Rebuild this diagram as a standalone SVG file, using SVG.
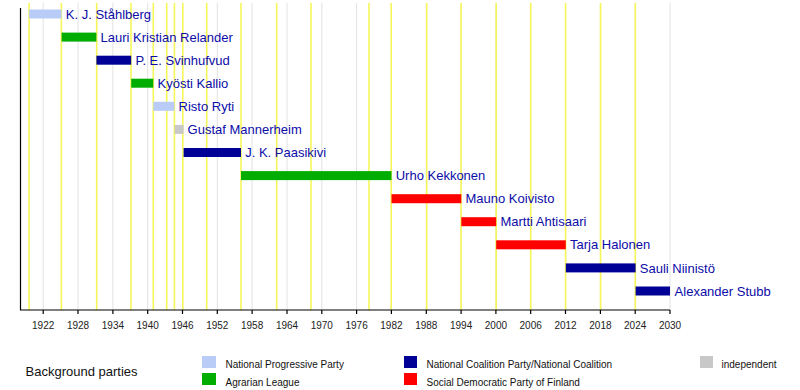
<svg xmlns="http://www.w3.org/2000/svg" width="800" height="390" viewBox="0 0 800 390">
<style>
.grid{stroke:#e2e2e2;stroke-width:1}
.yl{stroke:#f6f65a;stroke-width:1.6}
.axis{stroke:#000;stroke-width:1.2;fill:none}
.tick{font-family:"Liberation Sans",Arial,sans-serif;font-size:10px;fill:#222;text-anchor:middle}
.lbl{font-family:"Liberation Sans",Arial,sans-serif;font-size:13px;fill:#0c0ca8}
.leg{font-family:"Liberation Sans",Arial,sans-serif;font-size:10px;fill:#111}
.npp{fill:#b9cbf7}
.agr{fill:#00ad00}
.kok{fill:#000096}
.sdp{fill:#ff0000}
.ind{fill:#c8c8c8}
</style>
<rect width="800" height="390" fill="#fff"/>
<g id="gridlines">
<line class="grid" x1="43.2" y1="3" x2="43.2" y2="310"/>
<line class="grid" x1="78" y1="3" x2="78" y2="310"/>
<line class="grid" x1="112.9" y1="3" x2="112.9" y2="310"/>
<line class="grid" x1="147.7" y1="3" x2="147.7" y2="310"/>
<line class="grid" x1="182.5" y1="3" x2="182.5" y2="310"/>
<line class="grid" x1="217.3" y1="3" x2="217.3" y2="310"/>
<line class="grid" x1="252.1" y1="3" x2="252.1" y2="310"/>
<line class="grid" x1="287" y1="3" x2="287" y2="310"/>
<line class="grid" x1="321.8" y1="3" x2="321.8" y2="310"/>
<line class="grid" x1="356.6" y1="3" x2="356.6" y2="310"/>
<line class="grid" x1="391.4" y1="3" x2="391.4" y2="310"/>
<line class="grid" x1="426.3" y1="3" x2="426.3" y2="310"/>
<line class="grid" x1="461.1" y1="3" x2="461.1" y2="310"/>
<line class="grid" x1="495.9" y1="3" x2="495.9" y2="310"/>
<line class="grid" x1="530.7" y1="3" x2="530.7" y2="310"/>
<line class="grid" x1="565.5" y1="3" x2="565.5" y2="310"/>
<line class="grid" x1="600.4" y1="3" x2="600.4" y2="310"/>
<line class="grid" x1="635.2" y1="3" x2="635.2" y2="310"/>
<line class="grid" x1="670" y1="3" x2="670" y2="310"/>
<line class="yl" x1="29.1" y1="3" x2="29.1" y2="310"/>
<line class="yl" x1="61.4" y1="3" x2="61.4" y2="310"/>
<line class="yl" x1="96.7" y1="3" x2="96.7" y2="310"/>
<line class="yl" x1="131" y1="3" x2="131" y2="310"/>
<line class="yl" x1="153.3" y1="3" x2="153.3" y2="310"/>
<line class="yl" x1="166.7" y1="3" x2="166.7" y2="310"/>
<line class="yl" x1="174.4" y1="3" x2="174.4" y2="310"/>
<line class="yl" x1="182.8" y1="3" x2="182.8" y2="310"/>
<line class="yl" x1="206.7" y1="3" x2="206.7" y2="310"/>
<line class="yl" x1="241" y1="3" x2="241" y2="310"/>
<line class="yl" x1="276.7" y1="3" x2="276.7" y2="310"/>
<line class="yl" x1="311" y1="3" x2="311" y2="310"/>
<line class="yl" x1="369" y1="3" x2="369" y2="310"/>
<line class="yl" x1="391.2" y1="3" x2="391.2" y2="310"/>
<line class="yl" x1="426.7" y1="3" x2="426.7" y2="310"/>
<line class="yl" x1="461.1" y1="3" x2="461.1" y2="310"/>
<line class="yl" x1="496.2" y1="3" x2="496.2" y2="310"/>
<line class="yl" x1="530.7" y1="3" x2="530.7" y2="310"/>
<line class="yl" x1="565.6" y1="3" x2="565.6" y2="310"/>
<line class="yl" x1="600.6" y1="3" x2="600.6" y2="310"/>
<line class="yl" x1="635.3" y1="3" x2="635.3" y2="310"/>
</g>
<g id="axis">
<path class="axis" d="M20.5,8 V310 H670"/>
<path class="axis" d="M43.2,310v4M78,310v4M112.9,310v4M147.7,310v4M182.5,310v4M217.3,310v4M252.1,310v4M287,310v4M321.8,310v4M356.6,310v4M391.4,310v4M426.3,310v4M461.1,310v4M495.9,310v4M530.7,310v4M565.5,310v4M600.4,310v4M635.2,310v4M670,310v4"/>
<text class="tick" x="43.2" y="329">1922</text>
<text class="tick" x="78" y="329">1928</text>
<text class="tick" x="112.9" y="329">1934</text>
<text class="tick" x="147.7" y="329">1940</text>
<text class="tick" x="182.5" y="329">1946</text>
<text class="tick" x="217.3" y="329">1952</text>
<text class="tick" x="252.1" y="329">1958</text>
<text class="tick" x="287" y="329">1964</text>
<text class="tick" x="321.8" y="329">1970</text>
<text class="tick" x="356.6" y="329">1976</text>
<text class="tick" x="391.4" y="329">1982</text>
<text class="tick" x="426.3" y="329">1988</text>
<text class="tick" x="461.1" y="329">1994</text>
<text class="tick" x="495.9" y="329">2000</text>
<text class="tick" x="530.7" y="329">2006</text>
<text class="tick" x="565.5" y="329">2012</text>
<text class="tick" x="600.4" y="329">2018</text>
<text class="tick" x="635.2" y="329">2024</text>
<text class="tick" x="670" y="329">2030</text>
</g>
<g id="stahlberg"><rect class="npp" x="29.1" y="9.5" width="32.5" height="9"/><text class="lbl" x="65.8" y="18.6">K. J. Ståhlberg</text></g>
<g id="relander"><rect class="agr" x="61.6" y="32.6" width="34.8" height="9"/><text class="lbl" x="100.6" y="41.7">Lauri Kristian Relander</text></g>
<g id="svinhufvud"><rect class="kok" x="96.4" y="55.7" width="34.8" height="9"/><text class="lbl" x="135.4" y="64.8">P. E. Svinhufvud</text></g>
<g id="kallio"><rect class="agr" x="131.2" y="78.7" width="22.1" height="9"/><text class="lbl" x="157.5" y="87.8">Kyösti Kallio</text></g>
<g id="ryti"><rect class="npp" x="153.3" y="101.8" width="21.1" height="9"/><text class="lbl" x="178.6" y="110.9">Risto Ryti</text></g>
<g id="mannerheim"><rect class="ind" x="174.6" y="124.9" width="9" height="9"/><text class="lbl" x="187.6" y="134">Gustaf Mannerheim</text></g>
<g id="paasikivi"><rect class="kok" x="183.6" y="148" width="57.4" height="9"/><text class="lbl" x="245.2" y="157.1">J. K. Paasikivi</text></g>
<g id="kekkonen"><rect class="agr" x="241" y="171.1" width="150.5" height="9"/><text class="lbl" x="395.7" y="180.2">Urho Kekkonen</text></g>
<g id="koivisto"><rect class="sdp" x="391.5" y="194.2" width="69.8" height="9"/><text class="lbl" x="465.5" y="203.3">Mauno Koivisto</text></g>
<g id="ahtisaari"><rect class="sdp" x="461.3" y="217.2" width="34.9" height="9"/><text class="lbl" x="500.4" y="226.3">Martti Ahtisaari</text></g>
<g id="halonen"><rect class="sdp" x="496.2" y="240.3" width="69.6" height="9"/><text class="lbl" x="570" y="249.4">Tarja Halonen</text></g>
<g id="niinisto"><rect class="kok" x="565.8" y="263.4" width="69.8" height="9"/><text class="lbl" x="639.8" y="272.5">Sauli Niinistö</text></g>
<g id="stubb"><rect class="kok" x="635.6" y="286.5" width="34.4" height="9"/><text class="lbl" x="674.6" y="295.6">Alexander Stubb</text></g>
<g id="legend">
<text class="lbl" x="25.5" y="376" style="fill:#111">Background parties</text>
<rect class="npp" x="202" y="356" width="14" height="12"/>
<text class="leg" x="225.5" y="368">National Progressive Party</text>
<rect class="agr" x="202" y="373" width="14" height="12"/>
<text class="leg" x="225.5" y="385.5">Agrarian League</text>
<rect class="kok" x="404" y="356" width="13" height="12"/>
<text class="leg" x="426.5" y="368">National Coalition Party/National Coalition</text>
<rect class="sdp" x="404" y="373" width="13" height="12"/>
<text class="leg" x="426.5" y="385.5">Social Democratic Party of Finland</text>
<rect class="ind" x="700" y="356" width="13" height="12"/>
<text class="leg" x="721.5" y="368">independent</text>
</g>
</svg>
